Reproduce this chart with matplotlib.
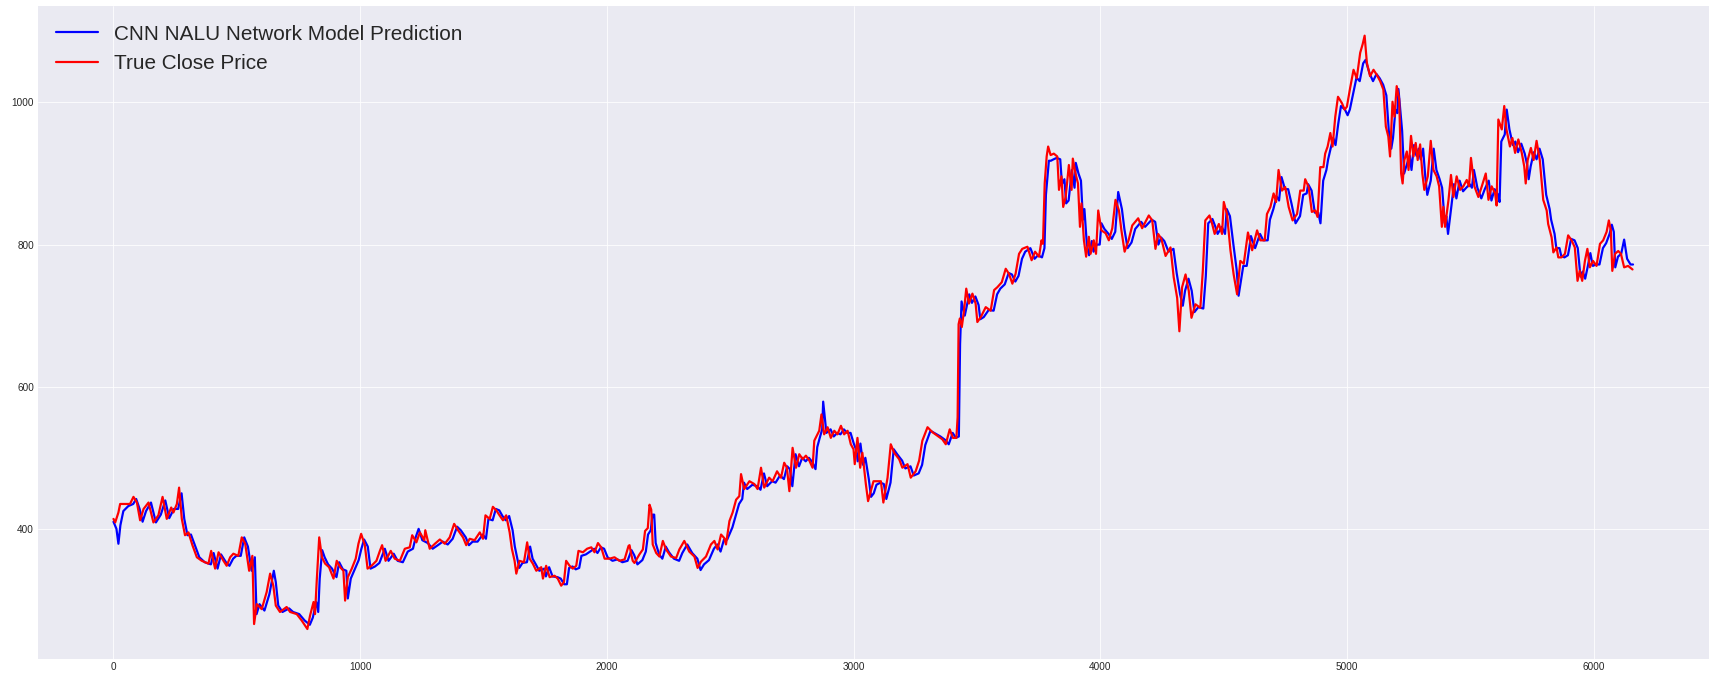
import matplotlib
matplotlib.use("Agg")
import matplotlib.pyplot as plt

# true close price (index, price)
true_x = [0, 7, 20, 27, 47, 67, 81, 95, 108, 122, 142, 162, 182, 199, 216, 234, 243, 257, 266, 277,
          290, 304, 320, 338, 358, 385, 396, 412, 426, 446, 459, 473, 486, 506, 520, 534, 550, 563, 570, 581,
          601, 621, 635, 648, 658, 675, 702, 716, 743, 763, 786, 797, 811, 817, 824, 834, 845, 858, 874, 892,
          905, 919, 932, 939, 950, 966, 982, 993, 1004, 1019, 1030, 1046, 1066, 1080, 1089, 1103, 1124, 1140, 1161, 1181,
          1201, 1211, 1228, 1242, 1260, 1264, 1282, 1303, 1323, 1343, 1363, 1381, 1397, 1417, 1430, 1444, 1464, 1485, 1498, 1508,
          1525, 1538, 1552, 1565, 1579, 1592, 1606, 1615, 1626, 1633, 1646, 1664, 1677, 1687, 1700, 1714, 1734, 1741, 1754, 1768,
          1788, 1801, 1815, 1826, 1835, 1849, 1862, 1876, 1885, 1903, 1920, 1937, 1950, 1964, 1977, 1991, 2011, 2031, 2051, 2072,
          2088, 2092, 2099, 2105, 2112, 2132, 2146, 2155, 2166, 2173, 2180, 2186, 2200, 2213, 2227, 2240, 2260, 2281, 2294, 2314,
          2334, 2355, 2368, 2382, 2402, 2422, 2436, 2449, 2463, 2476, 2483, 2497, 2510, 2524, 2537, 2544, 2557, 2578, 2598, 2611,
          2625, 2638, 2658, 2672, 2690, 2706, 2719, 2730, 2740, 2753, 2767, 2780, 2794, 2807, 2821, 2834, 2841, 2851, 2861, 2870,
          2881, 2895, 2908, 2922, 2935, 2949, 2962, 2976, 2989, 3000, 3005, 3016, 3027, 3036, 3050, 3059, 3070, 3081, 3097, 3111,
          3121, 3138, 3151, 3165, 3185, 3198, 3219, 3232, 3252, 3266, 3279, 3300, 3320, 3340, 3360, 3374, 3390, 3403, 3417, 3422,
          3426, 3431, 3439, 3448, 3457, 3468, 3482, 3495, 3502, 3516, 3536, 3556, 3570, 3583, 3601, 3617, 3630, 3644, 3657, 3671,
          3684, 3705, 3722, 3736, 3752, 3762, 3768, 3775, 3783, 3789, 3799, 3812, 3826, 3833, 3843, 3850, 3860, 3873, 3884, 3889,
          3900, 3910, 3918, 3924, 3934, 3943, 3954, 3961, 3974, 3983, 3992, 4005, 4022, 4035, 4049, 4062, 4076, 4086, 4099, 4115,
          4130, 4154, 4170, 4197, 4211, 4224, 4235, 4248, 4265, 4285, 4298, 4312, 4321, 4332, 4346, 4359, 4370, 4386, 4406, 4416,
          4426, 4443, 4454, 4464, 4481, 4494, 4501, 4514, 4528, 4541, 4555, 4568, 4582, 4599, 4616, 4636, 4649, 4667, 4676, 4690,
          4703, 4713, 4723, 4737, 4750, 4764, 4780, 4798, 4811, 4825, 4831, 4845, 4858, 4872, 4881, 4892, 4905, 4912, 4922, 4933,
          4942, 4953, 4964, 4980, 4991, 5000, 5013, 5027, 5040, 5054, 5064, 5072, 5081, 5094, 5108, 5121, 5135, 5148, 5158, 5168,
          5175, 5185, 5193, 5202, 5212, 5220, 5226, 5233, 5243, 5250, 5260, 5270, 5279, 5287, 5297, 5306, 5314, 5328, 5340, 5351,
          5364, 5374, 5385, 5391, 5398, 5412, 5422, 5432, 5445, 5459, 5472, 5486, 5495, 5503, 5517, 5533, 5547, 5563, 5574, 5587,
          5601, 5607, 5614, 5628, 5638, 5647, 5661, 5671, 5682, 5695, 5709, 5719, 5725, 5733, 5746, 5757, 5769, 5782, 5796, 5810,
          5816, 5830, 5837, 5850, 5857, 5870, 5884, 5897, 5911, 5924, 5935, 5944, 5954, 5965, 5975, 5985, 5998, 6012, 6026, 6039,
          6053, 6062, 6070, 6076, 6087, 6100, 6111, 6124, 6140, 6158]
true_y = [414, 409, 423, 435, 435, 435, 445, 437, 412, 428, 437, 409, 419, 445, 414, 430, 423, 435, 458, 414,
          391, 395, 377, 360, 355, 351, 369, 344, 367, 355, 348, 360, 365, 362, 388, 379, 341, 362, 266, 294,
          287, 311, 337, 320, 292, 283, 290, 283, 280, 271, 259, 278, 297, 280, 327, 388, 360, 351, 346, 330,
          355, 346, 341, 299, 332, 344, 358, 379, 393, 377, 344, 348, 355, 369, 377, 355, 369, 358, 355, 372,
          374, 391, 381, 395, 384, 398, 372, 379, 385, 379, 388, 407, 398, 388, 377, 386, 384, 395, 386, 419,
          414, 431, 426, 419, 412, 419, 395, 372, 355, 337, 355, 353, 381, 358, 351, 341, 346, 330, 348, 332,
          334, 330, 320, 325, 355, 348, 344, 348, 369, 367, 372, 374, 367, 380, 374, 358, 358, 360, 355, 357,
          376, 377, 364, 355, 352, 364, 371, 397, 401, 434, 427, 378, 366, 361, 383, 371, 361, 359, 371, 383,
          368, 361, 345, 354, 361, 378, 383, 371, 392, 387, 378, 411, 423, 441, 446, 477, 456, 467, 463, 456,
          486, 458, 472, 467, 481, 472, 493, 486, 453, 514, 486, 505, 498, 503, 496, 486, 524, 531, 538, 561,
          533, 543, 528, 538, 533, 545, 533, 538, 519, 512, 491, 528, 486, 507, 463, 439, 453, 467, 467, 467,
          437, 472, 519, 507, 498, 486, 491, 472, 481, 496, 524, 543, 536, 531, 526, 519, 540, 528, 528, 557,
          688, 696, 684, 707, 738, 717, 731, 717, 691, 698, 712, 707, 736, 740, 747, 766, 759, 745, 759, 787,
          794, 797, 778, 790, 783, 806, 801, 886, 924, 938, 926, 928, 924, 877, 896, 853, 867, 912, 877, 921,
          900, 886, 825, 858, 806, 783, 811, 787, 806, 787, 848, 820, 816, 806, 823, 863, 848, 820, 790, 806,
          827, 837, 823, 841, 834, 794, 815, 808, 784, 796, 754, 725, 678, 740, 758, 735, 697, 716, 711, 763,
          834, 841, 829, 815, 829, 815, 860, 843, 792, 758, 730, 777, 773, 817, 792, 820, 806, 806, 843, 853,
          872, 860, 905, 876, 881, 853, 834, 843, 876, 876, 892, 881, 846, 848, 839, 909, 909, 928, 938, 957,
          938, 980, 1008, 999, 990, 994, 1020, 1046, 1034, 1070, 1082, 1094, 1056, 1037, 1046, 1039, 1030, 1018, 966, 952,
          924, 1001, 980, 1023, 1005, 900, 886, 919, 931, 905, 953, 924, 943, 919, 941, 900, 877, 896, 946, 905,
          896, 882, 825, 853, 825, 863, 898, 867, 896, 877, 882, 891, 882, 922, 882, 867, 882, 900, 863, 882,
          872, 855, 976, 962, 995, 962, 938, 950, 929, 948, 929, 910, 886, 919, 936, 919, 946, 919, 863, 848,
          829, 810, 789, 796, 782, 782, 787, 813, 806, 796, 749, 763, 749, 777, 794, 768, 777, 770, 801, 806,
          818, 834, 820, 763, 787, 791, 787, 768, 770, 765]

# model prediction (index, price)
pred_x = [0, 12, 20, 28, 40, 60, 80, 92, 106, 118, 132, 152, 172, 192, 210, 226, 245, 262, 276, 287,
          300, 314, 330, 348, 370, 395, 406, 422, 436, 456, 470, 485, 498, 516, 530, 545, 560, 573, 580, 592,
          612, 632, 650, 658, 668, 685, 712, 728, 753, 775, 796, 808, 822, 830, 836, 846, 856, 870, 886, 904,
          915, 930, 944, 950, 962, 978, 994, 1005, 1016, 1031, 1042, 1060, 1078, 1092, 1100, 1115, 1136, 1152, 1173, 1193,
          1214, 1225, 1237, 1252, 1274, 1294, 1315, 1335, 1355, 1375, 1393, 1408, 1428, 1441, 1456, 1476, 1497, 1510, 1520, 1537,
          1550, 1564, 1577, 1590, 1604, 1618, 1627, 1638, 1645, 1658, 1676, 1689, 1699, 1712, 1726, 1746, 1753, 1766, 1780, 1800,
          1813, 1827, 1838, 1847, 1861, 1874, 1888, 1897, 1915, 1932, 1949, 1962, 1976, 1989, 2003, 2023, 2043, 2063, 2084, 2100,
          2111, 2124, 2144, 2158, 2167, 2178, 2185, 2192, 2198, 2212, 2225, 2239, 2252, 2272, 2293, 2306, 2326, 2346, 2367, 2380,
          2394, 2414, 2434, 2448, 2461, 2475, 2488, 2509, 2522, 2536, 2549, 2556, 2569, 2590, 2610, 2623, 2637, 2650, 2670, 2684,
          2702, 2718, 2731, 2742, 2752, 2765, 2779, 2792, 2806, 2819, 2833, 2846, 2853, 2863, 2873, 2877, 2890, 2907, 2920, 2934,
          2947, 2961, 2974, 2988, 3001, 3012, 3017, 3028, 3039, 3048, 3062, 3071, 3082, 3093, 3109, 3123, 3133, 3150, 3163, 3177,
          3197, 3210, 3231, 3244, 3264, 3278, 3291, 3312, 3332, 3352, 3372, 3386, 3402, 3415, 3427, 3432, 3438, 3451, 3460, 3469,
          3480, 3494, 3507, 3514, 3528, 3548, 3568, 3582, 3595, 3613, 3629, 3642, 3656, 3669, 3683, 3696, 3717, 3734, 3748, 3764,
          3774, 3780, 3792, 3800, 3811, 3824, 3838, 3845, 3855, 3862, 3872, 3885, 3896, 3901, 3912, 3922, 3930, 3936, 3946, 3955,
          3966, 3973, 3986, 3998, 4005, 4017, 4034, 4047, 4061, 4073, 4088, 4098, 4111, 4127, 4142, 4166, 4182, 4209, 4223, 4236,
          4247, 4260, 4277, 4297, 4310, 4324, 4335, 4344, 4358, 4371, 4382, 4398, 4418, 4428, 4438, 4455, 4466, 4476, 4493, 4506,
          4513, 4526, 4540, 4553, 4561, 4580, 4594, 4611, 4628, 4648, 4661, 4679, 4688, 4702, 4715, 4725, 4735, 4749, 4762, 4776,
          4792, 4810, 4823, 4837, 4843, 4857, 4870, 4884, 4893, 4904, 4917, 4924, 4934, 4945, 4954, 4965, 4976, 4992, 5003, 5012,
          5025, 5039, 5052, 5066, 5076, 5084, 5093, 5106, 5120, 5133, 5147, 5160, 5170, 5180, 5187, 5197, 5205, 5209, 5224, 5232,
          5245, 5255, 5262, 5272, 5282, 5291, 5299, 5309, 5318, 5326, 5340, 5352, 5363, 5376, 5386, 5397, 5403, 5410, 5424, 5434,
          5444, 5457, 5471, 5484, 5498, 5507, 5515, 5529, 5545, 5559, 5575, 5586, 5599, 5613, 5619, 5626, 5640, 5648, 5659, 5673,
          5683, 5694, 5707, 5721, 5731, 5737, 5745, 5758, 5769, 5781, 5794, 5808, 5822, 5828, 5842, 5849, 5862, 5869, 5882, 5896,
          5909, 5923, 5936, 5947, 5956, 5966, 5977, 5987, 5997, 6010, 6024, 6038, 6051, 6065, 6074, 6082, 6088, 6099, 6112, 6124,
          6136, 6150, 6160]
pred_y = [410, 400, 379, 405, 425, 432, 435, 442, 428, 410, 425, 437, 409, 420, 440, 415, 428, 428, 450, 414,
          391, 392, 377, 360, 353, 350, 366, 344, 364, 353, 348, 358, 362, 362, 388, 375, 341, 360, 280, 294,
          285, 308, 341, 325, 292, 283, 288, 283, 280, 271, 265, 275, 297, 283, 330, 370, 360, 350, 344, 332,
          353, 343, 341, 302, 330, 343, 356, 372, 385, 375, 344, 347, 352, 365, 372, 355, 365, 355, 353, 368,
          372, 388, 400, 384, 380, 372, 377, 382, 378, 386, 403, 398, 388, 377, 382, 382, 392, 386, 414, 412,
          428, 426, 418, 412, 418, 398, 375, 357, 345, 352, 353, 375, 358, 350, 341, 344, 333, 346, 333, 332,
          330, 322, 322, 345, 347, 343, 345, 362, 364, 368, 372, 366, 374, 372, 360, 355, 357, 353, 355, 370,
          363, 350, 356, 368, 392, 398, 420, 420, 380, 364, 358, 375, 367, 358, 355, 366, 378, 366, 358, 342,
          350, 356, 372, 378, 368, 385, 385, 402, 418, 435, 442, 465, 456, 462, 460, 455, 478, 460, 467, 465,
          475, 470, 488, 484, 460, 505, 488, 500, 495, 500, 494, 484, 515, 528, 540, 579, 535, 540, 530, 535,
          533, 540, 535, 535, 520, 510, 495, 520, 490, 500, 470, 445, 450, 462, 465, 463, 442, 465, 512, 505,
          496, 485, 488, 475, 478, 490, 518, 538, 534, 530, 525, 519, 535, 528, 530, 660, 720, 700, 715, 730,
          718, 727, 715, 695, 698, 708, 707, 730, 738, 744, 760, 758, 748, 756, 780, 790, 795, 780, 785, 782,
          795, 870, 918, 918, 920, 922, 920, 885, 892, 858, 862, 905, 880, 915, 900, 890, 835, 850, 800, 785,
          805, 790, 800, 800, 830, 822, 815, 808, 818, 874, 850, 822, 795, 803, 822, 832, 825, 835, 832, 800,
          810, 805, 790, 794, 760, 730, 714, 735, 752, 735, 705, 712, 710, 755, 830, 836, 826, 815, 825, 815,
          850, 840, 800, 765, 728, 770, 770, 812, 795, 815, 806, 806, 835, 850, 868, 862, 895, 878, 878, 857,
          830, 840, 870, 872, 885, 876, 845, 845, 830, 890, 905, 920, 935, 950, 940, 970, 995, 990, 982, 990,
          1012, 1035, 1030, 1055, 1060, 1050, 1040, 1030, 1040, 1034, 1025, 1010, 960, 935, 950, 990, 985, 1019, 960, 900,
          915, 925, 905, 940, 925, 935, 920, 935, 895, 870, 890, 935, 905, 892, 880, 830, 840, 815, 855, 885,
          865, 890, 875, 880, 885, 880, 905, 880, 865, 878, 890, 862, 878, 870, 860, 945, 955, 990, 962, 940,
          945, 930, 942, 928, 912, 892, 910, 930, 920, 935, 920, 870, 850, 835, 815, 795, 795, 784, 782, 785,
          808, 806, 795, 755, 762, 752, 770, 788, 770, 772, 772, 795, 802, 815, 828, 818, 768, 783, 787, 807,
          780, 772, 772]

plt.style.use('seaborn-v0_8-darkgrid')
plt.rcParams['font.family'] = ['Liberation Sans', 'DejaVu Sans']

fig = plt.figure(figsize=(1717 / 72, 683 / 72), dpi=72)
ax = fig.add_axes([37.5 / 1717, 24.3 / 683, (1709 - 37.5) / 1717, (677 - 24.3) / 683])

ax.plot(pred_x, pred_y, color='blue', lw=2.2, label='CNN NALU Network Model Prediction')
ax.plot(true_x, true_y, color='red', lw=2.2, label='True Close Price')

ax.set_xticks([0, 1000, 2000, 3000, 4000, 5000, 6000])
ax.set_yticks([400, 600, 800, 1000])
ax.tick_params(labelsize=10)
ax.legend(loc='upper left', fontsize=20.7)

fig.savefig('out.png', dpi=72)
